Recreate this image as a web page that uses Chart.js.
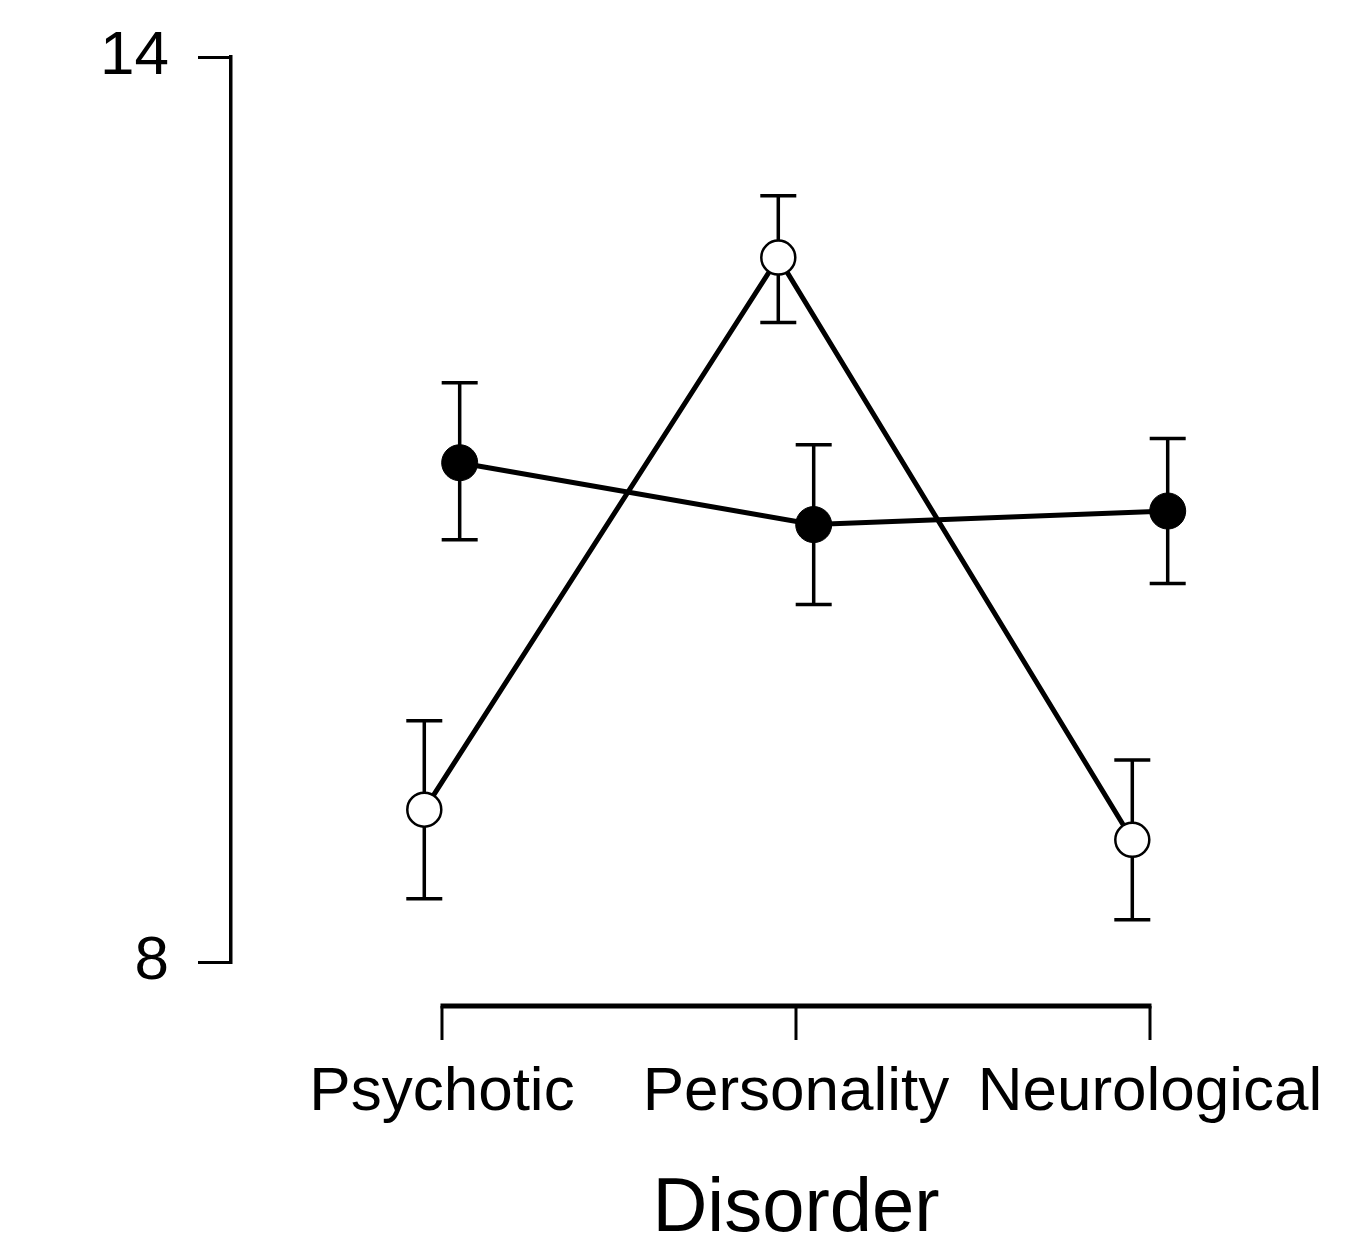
<!DOCTYPE html>
<html>
<head>
<meta charset="utf-8">
<script src="https://cdn.jsdelivr.net/npm/chart.js@4.4.1/dist/chart.umd.min.js"></script>
<style>
  html, body { margin: 0; padding: 0; background: #ffffff; }
  #wrap { width: 1349px; height: 1245px; position: relative; }
</style>
</head>
<body>
<div id="wrap"><canvas id="c"></canvas></div>
<script>
// ---- data ----
const categories = ['Psychotic', 'Personality', 'Neurological'];
const yTickValues = [8, 14];
const xAxisTitle = 'Disorder';

const filledMean  = [11.31, 10.90, 10.99];
const filledLower = [10.80, 10.37, 10.51];
const filledUpper = [11.84, 11.43, 11.47];

const openMean  = [9.01, 12.67, 8.81];
const openLower = [8.42, 12.24, 8.28];
const openUpper = [9.60, 13.08, 9.34];

// ---- layout / style constants ----
const DODGE = 0.05;
const FONT = '"Liberation Sans", Arial, sans-serif';

function pts(mean, shift) {
  return mean.map((v, i) => ({ x: i + shift, y: v }));
}

const errorSets = [
  { lower: openLower, upper: openUpper, shift: -DODGE },
  { lower: filledLower, upper: filledUpper, shift: DODGE }
];

const errorBarPlugin = {
  id: 'errorBars',
  beforeDatasetsDraw(chart) {
    const { ctx, scales: { x, y } } = chart;
    ctx.save();
    ctx.strokeStyle = '#000';
    ctx.lineWidth = 3.5;
    ctx.lineCap = 'butt';
    errorSets.forEach(s => {
      s.lower.forEach((lo, i) => {
        const px = x.getPixelForValue(i + s.shift);
        const pLo = y.getPixelForValue(lo);
        const pHi = y.getPixelForValue(s.upper[i]);
        const half = 18;
        ctx.beginPath();
        ctx.moveTo(px, pLo); ctx.lineTo(px, pHi);
        ctx.moveTo(px - half, pLo); ctx.lineTo(px + half, pLo);
        ctx.moveTo(px - half, pHi); ctx.lineTo(px + half, pHi);
        ctx.stroke();
      });
    });
    ctx.restore();
  }
};

const xAxisPlugin = {
  id: 'xAxisLine',
  afterDraw(chart) {
    const { ctx, scales: { x }, chartArea } = chart;
    const yLine = chartArea.bottom + 44;
    const x0 = x.getPixelForValue(0);
    const x2 = x.getPixelForValue(categories.length - 1);
    ctx.save();
    ctx.strokeStyle = '#000';
    ctx.lineWidth = 5;
    ctx.beginPath();
    ctx.moveTo(x0 - 1.5, yLine); ctx.lineTo(x2 + 1.5, yLine);
    ctx.stroke();
    ctx.lineWidth = 3;
    categories.forEach((c, i) => {
      const px = x.getPixelForValue(i);
      ctx.beginPath();
      ctx.moveTo(px, yLine); ctx.lineTo(px, yLine + 34);
      ctx.stroke();
    });
    ctx.fillStyle = '#000';
    ctx.font = '76px ' + FONT;
    ctx.textAlign = 'center';
    ctx.textBaseline = 'alphabetic';
    ctx.fillText(xAxisTitle, x.getPixelForValue(1), 1231);
    ctx.restore();
  }
};

new Chart(document.getElementById('c'), {
  type: 'scatter',
  data: {
    datasets: [
      {
        label: 'open',
        data: pts(openMean, -DODGE),
        showLine: true,
        borderColor: '#000',
        borderWidth: 5,
        pointRadius: 17,
        pointBorderWidth: 2.5,
        pointBackgroundColor: '#fff',
        pointBorderColor: '#000',
        order: 2
      },
      {
        label: 'filled',
        data: pts(filledMean, DODGE),
        showLine: true,
        borderColor: '#000',
        borderWidth: 5,
        pointRadius: 18,
        pointBorderWidth: 1,
        pointBackgroundColor: '#000',
        pointBorderColor: '#000',
        order: 1
      }
    ]
  },
  options: {
    responsive: true,
    maintainAspectRatio: false,
    animation: false,
    devicePixelRatio: 1,
    layout: { padding: { left: 0, top: 57, right: 159, bottom: 0 } },
    plugins: { legend: { display: false }, tooltip: { enabled: false } },
    scales: {
      x: {
        type: 'linear',
        min: -0.596,
        max: 2.113,
        afterFit(s) { s.height = 283; },
        afterBuildTicks(s) { s.ticks = categories.map((c, i) => ({ value: i })); },
        grid: { display: false, drawTicks: false },
        border: { display: false },
        ticks: {
          color: '#000',
          font: { family: FONT, size: 62, lineHeight: '262px' },
          padding: 0,
          maxRotation: 0,
          autoSkip: false,
          callback: (v) => categories[v] ?? ''
        }
      },
      y: {
        type: 'linear',
        min: 8,
        max: 14,
        afterFit(s) { s.width = 231; },
        afterBuildTicks(s) { s.ticks = yTickValues.map(v => ({ value: v })); },
        grid: { drawOnChartArea: false, drawTicks: true, tickLength: 33, lineWidth: 3, color: '#000' },
        border: { display: true, width: 3.5, color: '#000' },
        ticks: {
          color: '#000',
          font: { family: FONT, size: 62, lineHeight: '10px' },
          padding: 29,
          autoSkip: false
        }
      }
    }
  },
  plugins: [errorBarPlugin, xAxisPlugin]
});
</script>
</body>
</html>
